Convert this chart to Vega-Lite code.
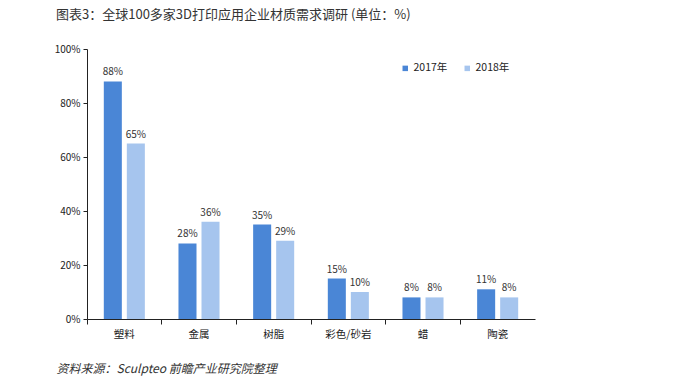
{
  "$schema": "https://vega.github.io/schema/vega-lite/v6.json",
  "width": 448,
  "height": 270,
  "autosize": {"type": "none"},
  "padding": {"left": 87, "top": 49, "right": 140, "bottom": 73},
  "background": "white",
  "config": {"view": {"stroke": null}, "font": "Noto Sans CJK SC"},
  "title": {
    "text": "图表3：全球100多家3D打印应用企业材质需求调研 (单位：%)",
    "anchor": "start",
    "frame": "group",
    "dx": -31,
    "offset": 22,
    "fontSize": 13,
    "fontWeight": "normal",
    "color": "#333333",
    "font": "Noto Sans CJK SC"
  },
  "data": {
    "values": [
      {"cat": "塑料", "year": "2017年", "v": 0.88},
      {"cat": "塑料", "year": "2018年", "v": 0.65},
      {"cat": "金属", "year": "2017年", "v": 0.28},
      {"cat": "金属", "year": "2018年", "v": 0.36},
      {"cat": "树脂", "year": "2017年", "v": 0.35},
      {"cat": "树脂", "year": "2018年", "v": 0.29},
      {"cat": "彩色/砂岩", "year": "2017年", "v": 0.15},
      {"cat": "彩色/砂岩", "year": "2018年", "v": 0.10},
      {"cat": "蜡", "year": "2017年", "v": 0.08},
      {"cat": "蜡", "year": "2018年", "v": 0.08},
      {"cat": "陶瓷", "year": "2017年", "v": 0.11},
      {"cat": "陶瓷", "year": "2018年", "v": 0.08}
    ]
  },
  "encoding": {
    "x": {
      "field": "cat",
      "type": "nominal",
      "sort": null,
      "scale": {"paddingInner": 0, "paddingOuter": 0},
      "axis": {
        "title": "资料来源：Sculpteo 前瞻产业研究院整理",
        "titleAnchor": "start",
        "titleAlign": "left",
        "titleX": -31,
        "titleY": 44,
        "titleFontSize": 12,
        "titleFontStyle": "italic",
        "titleFontWeight": "normal",
        "titleColor": "#333333",
        "labelAngle": 0,
        "labelFontSize": 10.5,
        "labelColor": "#222222",
        "labelPadding": 5,
        "bandPosition": 0,
        "tickSize": 5,
        "domainColor": "#222222",
        "tickColor": "#222222"
      }
    },
    "xOffset": {
      "field": "year",
      "type": "nominal",
      "scale": {"paddingInner": 0.217, "paddingOuter": 0.73}
    },
    "y": {
      "field": "v",
      "type": "quantitative",
      "scale": {"domain": [0, 1]},
      "axis": {
        "title": null,
        "values": [0, 0.2, 0.4, 0.6, 0.8, 1],
        "format": ".0%",
        "grid": false,
        "tickSize": 4,
        "labelFontSize": 10,
        "labelColor": "#222222",
        "domainColor": "#222222",
        "tickColor": "#222222",
        "labelPadding": 3
      }
    }
  },
  "layer": [
    {
      "mark": {"type": "bar"},
      "encoding": {
        "color": {
          "field": "year",
          "type": "nominal",
          "scale": {"range": ["#4a86d6", "#a6c5ee"]},
          "legend": {
            "title": null,
            "orient": "none",
            "legendX": 313,
            "legendY": 14,
            "direction": "horizontal",
            "symbolType": "square",
            "symbolSize": 30,
            "labelFontSize": 10.5,
            "labelColor": "#222222",
            "columnPadding": 14,
            "labelOffset": 3
          }
        }
      }
    },
    {
      "mark": {"type": "text", "dy": -9, "fontSize": 10, "color": "#333333"},
      "encoding": {
        "text": {"field": "v", "type": "quantitative", "format": ".0%"},
        "detail": {"field": "year"}
      }
    }
  ]
}
